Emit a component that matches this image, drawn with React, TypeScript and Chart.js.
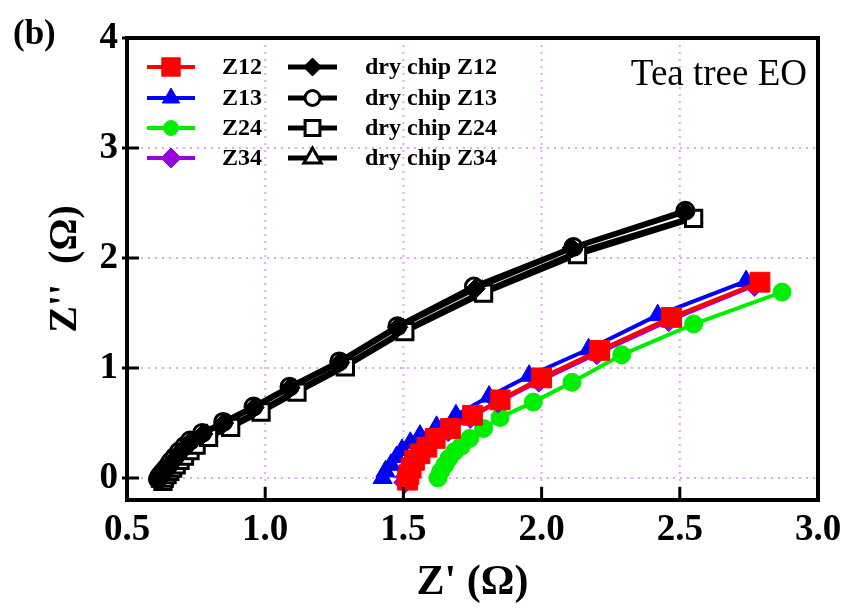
import React, { useEffect, useRef } from 'react';
import { Chart, registerables } from 'chart.js';
import { drawPoint } from 'chart.js/helpers';

Chart.register(...registerables);

const FONT = '"Liberation Serif", "Times New Roman", serif';

const xTicks = [0.5, 1.0, 1.5, 2.0, 2.5, 3.0];
const yTicks = [0, 1, 2, 3, 4];

const z12X = [1.515, 1.52, 1.528, 1.54, 1.56, 1.585, 1.615, 1.67, 1.75, 1.85, 2.0, 2.21, 2.47, 2.79];
const z12Y = [-0.02, 0.03, 0.09, 0.16, 0.22, 0.28, 0.36, 0.45, 0.57, 0.71, 0.91, 1.16, 1.46, 1.78];

const z13X = [1.425, 1.435, 1.455, 1.475, 1.495, 1.525, 1.56, 1.62, 1.69, 1.81, 1.955, 2.17, 2.42, 2.74];
const z13Y = [0.0, 0.06, 0.12, 0.19, 0.255, 0.32, 0.385, 0.465, 0.57, 0.74, 0.93, 1.17, 1.48, 1.79];

const z24X = [1.625, 1.635, 1.65, 1.665, 1.685, 1.71, 1.74, 1.79, 1.85, 1.97, 2.11, 2.29, 2.55, 2.87];
const z24Y = [0.0, 0.06, 0.12, 0.18, 0.24, 0.29, 0.36, 0.45, 0.55, 0.69, 0.87, 1.12, 1.4, 1.69];

const z34X = [1.505, 1.51, 1.52, 1.533, 1.553, 1.578, 1.607, 1.662, 1.742, 1.842, 1.99, 2.2, 2.46, 2.77];
const z34Y = [-0.04, 0.01, 0.07, 0.14, 0.2, 0.26, 0.34, 0.43, 0.55, 0.69, 0.88, 1.13, 1.43, 1.75];

const dry12X = [0.615, 0.62, 0.63, 0.64, 0.65, 0.66, 0.675, 0.69, 0.71, 0.73, 0.775, 0.85, 0.96, 1.09, 1.27, 1.48, 1.76, 2.11, 2.52];
const dry12Y = [-0.02, 0.01, 0.04, 0.07, 0.1, 0.14, 0.18, 0.23, 0.28, 0.33, 0.4, 0.5, 0.64, 0.82, 1.05, 1.37, 1.72, 2.09, 2.42];

const dry13X = [0.612, 0.618, 0.628, 0.638, 0.648, 0.658, 0.672, 0.688, 0.708, 0.728, 0.772, 0.848, 0.958, 1.088, 1.268, 1.478, 1.755, 2.115, 2.52];
const dry13Y = [-0.01, 0.02, 0.05, 0.08, 0.11, 0.15, 0.19, 0.24, 0.29, 0.34, 0.41, 0.51, 0.65, 0.83, 1.06, 1.38, 1.74, 2.1, 2.43];

const dry24X = [0.63, 0.635, 0.645, 0.655, 0.665, 0.678, 0.692, 0.708, 0.728, 0.75, 0.795, 0.875, 0.985, 1.115, 1.29, 1.505, 1.79, 2.13, 2.55];
const dry24Y = [-0.03, 0.0, 0.03, 0.06, 0.09, 0.12, 0.16, 0.2, 0.25, 0.3, 0.37, 0.46, 0.6, 0.78, 1.01, 1.33, 1.68, 2.03, 2.36];

const dry34X = [0.625, 0.63, 0.64, 0.65, 0.66, 0.672, 0.686, 0.702, 0.722, 0.744, 0.79, 0.868, 0.978, 1.108, 1.285, 1.5, 1.785, 2.125, 2.545];
const dry34Y = [-0.03, 0.0, 0.03, 0.06, 0.09, 0.13, 0.17, 0.21, 0.26, 0.31, 0.38, 0.47, 0.61, 0.79, 1.02, 1.34, 1.69, 2.05, 2.37];

const legendLabels = ['Z12', 'Z13', 'Z24', 'Z34', 'dry chip Z12', 'dry chip Z13', 'dry chip Z24', 'dry chip Z34'];

function pts(xs: number[], ys: number[]) {
  return xs.map((x, i) => ({ x, y: ys[i] }));
}

type Sty = { color: string; fill: string; style: string; radius: number; bw: number; lw: number; legR: number };

const styles: Record<string, Sty> = {
  Z12: { color: '#ff0000', fill: '#ff0000', style: 'rect', radius: 14, bw: 1, lw: 4, legR: 13 },
  Z13: { color: '#0000ff', fill: '#0000ff', style: 'triangle', radius: 11, bw: 1, lw: 4, legR: 10 },
  Z24: { color: '#00ee00', fill: '#00ee00', style: 'circle', radius: 9, bw: 1, lw: 4, legR: 7.5 },
  Z34: { color: '#9900dd', fill: '#9900dd', style: 'rectRot', radius: 11, bw: 1, lw: 4, legR: 10 },
  'dry chip Z12': { color: '#000000', fill: '#000000', style: 'rectRot', radius: 10, bw: 1, lw: 5, legR: 9 },
  'dry chip Z13': { color: '#000000', fill: '#ffffff', style: 'circle', radius: 8.5, bw: 3, lw: 5, legR: 7.5 },
  'dry chip Z24': { color: '#000000', fill: '#ffffff', style: 'rect', radius: 11.5, bw: 3, lw: 5, legR: 10.5 },
  'dry chip Z34': { color: '#000000', fill: '#ffffff', style: 'triangle', radius: 10, bw: 3, lw: 5, legR: 10 },
};

function ds(label: string, xs: number[], ys: number[]) {
  const s = styles[label];
  return {
    label,
    data: pts(xs, ys),
    borderColor: s.color,
    backgroundColor: s.color,
    borderWidth: s.lw,
    pointStyle: s.style,
    pointRadius: s.radius,
    pointBackgroundColor: s.fill,
    pointBorderColor: s.color,
    pointBorderWidth: s.bw,
    showLine: true,
    fill: false,
    tension: 0,
  };
}

const decorPlugin = {
  id: 'decor',
  beforeDatasetsDraw(chart: any) {
    const { ctx, chartArea: a, scales } = chart;
    ctx.save();
    ctx.strokeStyle = '#e2a8f2';
    ctx.lineWidth = 2;
    ctx.setLineDash([2, 5]);
    xTicks.slice(1, -1).forEach((v) => {
      const px = scales.x.getPixelForValue(v);
      ctx.beginPath();
      ctx.moveTo(px, a.top);
      ctx.lineTo(px, a.bottom);
      ctx.stroke();
    });
    yTicks.slice(0, -1).forEach((v) => {
      const py = scales.y.getPixelForValue(v);
      ctx.beginPath();
      ctx.moveTo(a.left, py);
      ctx.lineTo(a.right, py);
      ctx.stroke();
    });
    ctx.restore();
  },
  afterDatasetsDraw(chart: any) {
    const { ctx, chartArea: a, scales } = chart;
    ctx.save();
    ctx.strokeStyle = '#000';
    ctx.lineWidth = 4;
    ctx.setLineDash([]);
    ctx.strokeRect(a.left, a.top, a.right - a.left, a.bottom - a.top);
    ctx.lineWidth = 3;
    xTicks.slice(1, -1).forEach((v) => {
      const px = scales.x.getPixelForValue(v);
      ctx.beginPath();
      ctx.moveTo(px, a.bottom);
      ctx.lineTo(px, a.bottom - 13);
      ctx.stroke();
    });
    yTicks.forEach((v) => {
      const py = scales.y.getPixelForValue(v);
      ctx.beginPath();
      ctx.moveTo(a.left - 5, py);
      ctx.lineTo(a.left + 12, py);
      ctx.stroke();
    });

    // panel label
    ctx.fillStyle = '#000';
    ctx.font = `bold 35px ${FONT}`;
    ctx.textAlign = 'left';
    ctx.textBaseline = 'alphabetic';
    ctx.fillText('(b)', 13, 44);

    ctx.font = `37px ${FONT}`;
    ctx.textAlign = 'right';
    ctx.fillText('Tea tree EO', 807, 85);

    // legend
    const rows = [67, 98, 128, 158];
    const cols = [
      { x0: 147, x1: 195, tx: 222 },
      { x0: 288, x1: 337, tx: 365 },
    ];
    legendLabels.forEach((lab, i) => {
      const c = cols[Math.floor(i / 4)];
      const y = rows[i % 4];
      const s = styles[lab];
      ctx.strokeStyle = s.color;
      ctx.lineWidth = s.lw;
      ctx.beginPath();
      ctx.moveTo(c.x0, y);
      ctx.lineTo(c.x1, y);
      ctx.stroke();
      ctx.fillStyle = s.fill;
      ctx.strokeStyle = s.color;
      ctx.lineWidth = s.bw;
      drawPoint(ctx, { pointStyle: s.style, radius: s.legR, rotation: 0, borderWidth: s.bw } as any, (c.x0 + c.x1) / 2, y);
      ctx.fillStyle = '#000';
      ctx.font = `bold 24px ${FONT}`;
      ctx.textAlign = 'left';
      ctx.textBaseline = 'middle';
      ctx.fillText(lab, c.tx, y + 1);
    });
    ctx.restore();
  },
};

export default function App() {
  const ref = useRef<HTMLCanvasElement | null>(null);
  useEffect(() => {
    if (!ref.current) return;
    const chart = new Chart(ref.current, {
      type: 'scatter',
      data: {
        datasets: [
          ds('Z12', z12X, z12Y),
          ds('Z13', z13X, z13Y),
          ds('Z34', z34X, z34Y),
          ds('Z24', z24X, z24Y),
          ds('dry chip Z12', dry12X, dry12Y),
          ds('dry chip Z13', dry13X, dry13Y),
          ds('dry chip Z24', dry24X, dry24Y),
          ds('dry chip Z34', dry34X, dry34Y),
        ] as any,
      },
      options: {
        animation: false,
        responsive: false,
        devicePixelRatio: 1,
        layout: { padding: { top: 38, right: 28, left: 0, bottom: 0 } },
        plugins: { legend: { display: false }, tooltip: { enabled: false } },
        scales: {
          x: {
            type: 'linear',
            min: 0.5,
            max: 3.0,
            grid: { display: false, drawTicks: false },
            border: { display: false },
            afterBuildTicks: (s: any) => {
              s.ticks = xTicks.map((v) => ({ value: v }));
            },
            afterFit: (s: any) => {
              s.height = 116;
              s.paddingLeft = 0;
              s.paddingRight = 0;
            },
            ticks: {
              color: '#000',
              padding: 8,
              maxRotation: 0,
              font: { family: FONT, size: 37, weight: 'bold' },
              callback: (v: any) => Number(v).toFixed(1),
            },
            title: {
              display: true,
              text: "Z' (Ω)",
              color: '#000',
              font: { family: FONT, size: 42, weight: 'bold' },
              padding: { top: 0, bottom: 8 },
            },
          },
          y: {
            type: 'linear',
            min: -0.2,
            max: 4,
            grid: { display: false, drawTicks: false },
            border: { display: false },
            afterBuildTicks: (s: any) => {
              s.ticks = yTicks.map((v) => ({ value: v }));
            },
            afterFit: (s: any) => {
              s.width = 127;
              s.paddingTop = 0;
              s.paddingBottom = 0;
            },
            ticks: {
              color: '#000',
              padding: 9,
              font: { family: FONT, size: 37, weight: 'bold' },
              callback: (v: any) => String(Math.round(Number(v))),
            },
            title: {
              display: true,
              text: "Z''  (Ω)",
              color: '#000',
              font: { family: FONT, size: 40, weight: 'bold' },
              padding: { top: 42, bottom: 0 },
            },
          },
        },
      },
      plugins: [decorPlugin],
    });
    return () => chart.destroy();
  }, []);
  return (
    <div style={{ position: 'fixed', left: 0, top: 0, width: 846, height: 616, background: '#fff' }}>
      <canvas ref={ref} width={846} height={616} style={{ width: 846, height: 616 }} />
    </div>
  );
}
